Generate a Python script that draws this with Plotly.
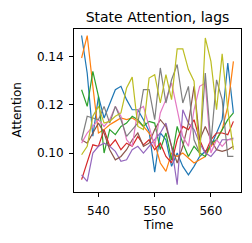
import plotly.graph_objects as go

time = list(range(537, 565))

# values (9 lag series)
lag_0 = [0.1486, 0.1330, 0.1070, 0.1234, 0.1145, 0.1207, 0.1262, 0.1276, 0.1221, 0.1179, 0.1179, 0.1138, 0.1090, 0.0921, 0.1083, 0.1055, 0.0945, 0.1000, 0.0945, 0.0910, 0.0945, 0.0986, 0.1007, 0.1028, 0.1083, 0.1138, 0.1372, 0.1166]
lag_1 = [0.1393, 0.1486, 0.1276, 0.1083, 0.1097, 0.1117, 0.1131, 0.1145, 0.1138, 0.1145, 0.1131, 0.1110, 0.1083, 0.1041, 0.0959, 0.0924, 0.1000, 0.0986, 0.1000, 0.0979, 0.0959, 0.0972, 0.0986, 0.1028, 0.1055, 0.1097, 0.1193, 0.1379]
lag_2 = [0.1262, 0.1193, 0.1338, 0.1234, 0.1000, 0.1097, 0.1076, 0.1110, 0.1124, 0.1152, 0.1138, 0.1110, 0.1131, 0.1124, 0.1014, 0.1083, 0.0972, 0.1110, 0.1041, 0.0986, 0.1028, 0.1000, 0.0986, 0.1041, 0.1055, 0.1097, 0.1138, 0.1166]
lag_3 = [0.0890, 0.0959, 0.1034, 0.1028, 0.1097, 0.1028, 0.1055, 0.1014, 0.1041, 0.1028, 0.1069, 0.1034, 0.1055, 0.1014, 0.1041, 0.0986, 0.0959, 0.1055, 0.1110, 0.1097, 0.1138, 0.1055, 0.1000, 0.1055, 0.1083, 0.1083, 0.1076, 0.1131]
lag_4 = [0.0910, 0.0883, 0.1000, 0.1028, 0.1041, 0.1028, 0.1007, 0.0966, 0.0972, 0.1014, 0.1028, 0.1000, 0.1028, 0.1055, 0.1083, 0.1124, 0.1028, 0.0869, 0.1179, 0.1124, 0.1097, 0.1041, 0.1000, 0.0986, 0.1014, 0.1055, 0.1055, 0.1062]
lag_5 = [0.1055, 0.1041, 0.1083, 0.1124, 0.1083, 0.1014, 0.0972, 0.0986, 0.1014, 0.1055, 0.1083, 0.1028, 0.1041, 0.1097, 0.1138, 0.1110, 0.1028, 0.0959, 0.1028, 0.1124, 0.1276, 0.1055, 0.1110, 0.1055, 0.1014, 0.1007, 0.1014, 0.1028]
lag_6 = [0.1041, 0.1083, 0.1110, 0.1138, 0.1110, 0.1138, 0.1193, 0.1152, 0.1055, 0.1028, 0.1179, 0.1193, 0.1110, 0.1028, 0.1166, 0.1221, 0.1290, 0.1179, 0.1069, 0.1028, 0.1179, 0.1276, 0.1290, 0.1000, 0.1055, 0.1028, 0.1055, 0.1055]
lag_7 = [0.1055, 0.1152, 0.1145, 0.1138, 0.1193, 0.1124, 0.1193, 0.1138, 0.1069, 0.1097, 0.1124, 0.1262, 0.1262, 0.1138, 0.1352, 0.1207, 0.1303, 0.1366, 0.1207, 0.1276, 0.1055, 0.1000, 0.1331, 0.1041, 0.1303, 0.1221, 0.0986, 0.0986]
lag_8 = [0.0993, 0.1028, 0.1152, 0.1193, 0.1124, 0.1131, 0.1152, 0.1166, 0.1269, 0.1314, 0.1110, 0.1097, 0.1310, 0.1324, 0.1207, 0.1324, 0.1221, 0.1431, 0.1431, 0.1345, 0.1297, 0.0986, 0.1476, 0.1379, 0.1179, 0.1410, 0.1179, 0.1014]

series = [lag_0, lag_1, lag_2, lag_3, lag_4, lag_5, lag_6, lag_7, lag_8]
colors = ["#1f77b4", "#ff7f0e", "#2ca02c", "#d62728", "#9467bd",
          "#8c564b", "#e377c2", "#7f7f7f", "#bcbd22"]

x_ticks = [540, 550, 560]
y_ticks = [0.10, 0.12, 0.14]
y_tick_labels = ["0.10", "0.12", "0.14"]

fig = go.Figure()
for i, (vals, c) in enumerate(zip(series, colors)):
    fig.add_trace(go.Scatter(x=time, y=vals, mode="lines", name=f"lag {i}",
                             line=dict(color=c, width=1.2)))

font = "DejaVu Sans, sans-serif"
axis_common = dict(showgrid=False, zeroline=False, showline=True, mirror=True,
                   linecolor="black", linewidth=1, ticks="outside", ticklen=4,
                   tickwidth=1, tickcolor="black",
                   tickfont=dict(family=font, size=12, color="black"))

# page body has an 8px margin, so the figure is sized to fit the window
fig.update_layout(
    width=244, height=235,
    margin=dict(l=66, r=11, t=21, b=51),
    paper_bgcolor="white", plot_bgcolor="white",
    showlegend=False,
    title=dict(text="State Attention, lags", x=0.5, xref="paper",
               y=1 - 9 / 235, yref="container", yanchor="middle", xanchor="center",
               font=dict(family=font, size=14, color="black")),
    xaxis=dict(range=[535.65, 565.35], tickvals=x_ticks, ticklabelstandoff=4,
               **axis_common),
    yaxis=dict(range=[0.0839, 0.1513], tickvals=y_ticks, ticktext=y_tick_labels,
               ticklabelstandoff=3, **axis_common),
    annotations=[
        dict(text="Time", xref="paper", yref="paper", x=0.5, y=-0.205,
             yanchor="middle", xanchor="center", showarrow=False,
             font=dict(family=font, size=12, color="black")),
        dict(text="Attention", xref="paper", yref="paper", x=0, xshift=-58, y=0.5,
             textangle=-90, xanchor="center", yanchor="middle", showarrow=False,
             font=dict(family=font, size=12, color="black")),
    ],
)

fig.write_html("out.html")
